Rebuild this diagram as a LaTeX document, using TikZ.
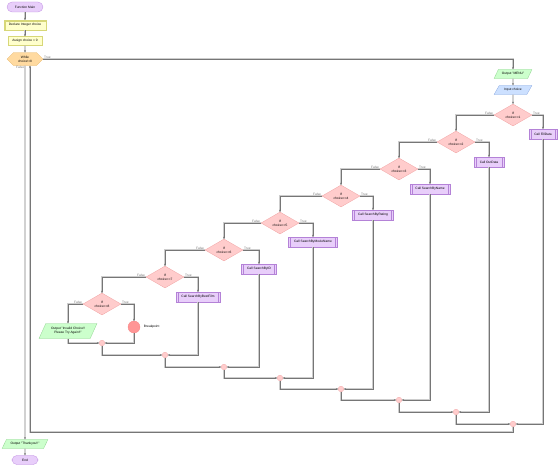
\documentclass[tikz,border=0pt]{standalone}
\usepackage{fontspec}
\setmainfont{Liberation Sans}
\usetikzlibrary{positioning,arrows.meta,shapes.geometric,shapes.symbols,calc}
\definecolor{termfill}{RGB}{232,206,250}
\definecolor{termrule}{RGB}{190,140,225}
\definecolor{procfill}{RGB}{255,255,204}
\definecolor{procrule}{RGB}{215,215,120}
\definecolor{loopfill}{RGB}{255,218,160}
\definecolor{looprule}{RGB}{230,180,100}
\definecolor{outfill}{RGB}{204,255,204}
\definecolor{outrule}{RGB}{140,210,140}
\definecolor{infill}{RGB}{204,224,255}
\definecolor{inrule}{RGB}{140,170,225}
\definecolor{decfill}{RGB}{255,204,204}
\definecolor{decrule}{RGB}{240,160,160}
\definecolor{callrule}{RGB}{180,130,215}
\definecolor{brkfill}{RGB}{255,150,150}
\definecolor{wire}{RGB}{118,118,118}
\definecolor{wireshade}{RGB}{205,205,205}
\newcommand{\tinyfont}{\fontsize{4.6}{5.4}\selectfont}

\begin{document}
\begin{tikzpicture}[
  font=\tinyfont,
  node distance=8mm,
  on grid,
  term/.style={draw=termrule,fill=termfill,rounded corners=2.5mm,
               minimum width=18mm,minimum height=5mm,inner sep=1pt},
  decl/.style={draw=procrule,fill=procfill,minimum width=21mm,minimum height=5mm,
               path picture={
                 \draw[procrule] ([yshift=-0.8mm]path picture bounding box.north west)
                   -- ([yshift=-0.8mm]path picture bounding box.north east);
                 \draw[procrule] ([xshift=0.8mm]path picture bounding box.north west)
                   -- ([xshift=0.8mm]path picture bounding box.south west);}},
  proc/.style={draw=procrule,fill=procfill,minimum width=17mm,minimum height=4.6mm},
  whilebox/.style={draw=looprule,fill=loopfill,signal,signal to=west and east,
               minimum width=18mm,minimum height=6.5mm,inner sep=0.5pt,align=center},
  outp/.style={draw=outrule,fill=outfill,trapezium,trapezium left angle=65,
               trapezium right angle=115,trapezium stretches=true,
               minimum width=19mm,minimum height=4.6mm,inner xsep=1pt,align=center},
  inp/.style={outp,draw=inrule,fill=infill},
  dec/.style={draw=decrule,fill=decfill,diamond,aspect=1.8,
              minimum width=19mm,minimum height=11mm,inner sep=0pt,align=center},
  call/.style={draw=callrule,fill=termfill,minimum height=5mm,inner xsep=2.8mm,
               path picture={
                 \draw[callrule] ([xshift=1mm]path picture bounding box.north west)
                   -- ([xshift=1mm]path picture bounding box.south west);
                 \draw[callrule] ([xshift=-1mm]path picture bounding box.north east)
                   -- ([xshift=-1mm]path picture bounding box.south east);}},
  brk/.style={circle,draw=decrule!80!red,fill=brkfill,minimum size=6mm,inner sep=0pt},
  merge/.style={circle,draw=decrule,fill=decfill,minimum size=2.8mm,inner sep=0pt},
  ar/.style={-{Stealth[length=1.1mm,width=0.9mm]},line width=0.6pt,wire,
             preaction={draw=wireshade,line width=1.5pt,-}},
  lbl/.style={font=\tinyfont,inner sep=1pt},
]
\path[use as bounding box] (-12.5mm,3.5mm) rectangle ++(280mm,-233.5mm);

\node[term] (fmain) {Function Main};
\node[decl,below=9mm of fmain] (decl) {Declare Integer choice};
\node[proc,below=8mm of decl] (assign) {Assign choice = 0};
\node[whilebox,below=9mm of assign] (loop) {While\\choice!=8};

\node[outp,below right=7.5mm and 244mm of loop] (menu) {Output "MENU"};
\node[inp,below=8mm of menu] (inchoice) {Input choice};
\node[dec,below=12.5mm of inchoice] (if1) {If\\choice==1};
\node[call,below right=9.5mm and 15mm of if1] (filldata) {Call FillData};
\node[dec,below left=13.5mm and 28.5mm of if1] (if2) {If\\choice==2};
\node[call,below right=10mm and 16.5mm of if2] (outdata) {Call OutData};
\node[dec,below left=13.5mm and 28.5mm of if2] (if3) {If\\choice==3};
\node[call,below right=10mm and 15.5mm of if3] (byname) {Call SearchByName};
\node[dec,below left=13.5mm and 29mm of if3] (if4) {If\\choice==4};
\node[call,below right=9.5mm and 16mm of if4] (byrating) {Call SearchByRating};
\node[dec,below left=13.5mm and 30.5mm of if4] (if5) {If\\choice==5};
\node[call,below right=9.5mm and 16.5mm of if5] (bymovie) {Call SearchByMovieName};
\node[dec,below left=13.5mm and 28mm of if5] (if6) {If\\choice==6};
\node[call,below right=9.5mm and 17.5mm of if6] (byid) {Call SearchByID};
\node[dec,below left=13.5mm and 29.5mm of if6] (if7) {If\\choice==7};
\node[call,below right=10mm and 16.5mm of if7] (bybest) {Call SearchByBestFilm};
\node[dec,below left=13.5mm and 31.5mm of if7] (if8) {If\\choice==8};
\node[brk,below right=11.5mm and 16mm of if8] (brk) {};
\node[lbl,anchor=west] (brktxt) at ([xshift=1.5mm]brk.east) {Breakpoint};
\node[outp,minimum width=29mm,minimum height=7.5mm,
      below left=13.5mm and 17mm of if8] (invalid) {Output "Invalid Choice!!\\Please Try Again!!"};

\node[merge] (m8) at ($(if8)+(0,-19.5mm)$) {};
\node[merge] (m7) at ($(if7 |- m8)+(0,-6mm)$) {};
\node[merge] (m6) at ($(if6 |- m7)+(0,-6mm)$) {};
\node[merge] (m5) at ($(if5 |- m6)+(0,-5.5mm)$) {};
\node[merge] (m4) at ($(if4 |- m5)+(0,-5.5mm)$) {};
\node[merge] (m3) at ($(if3 |- m4)+(0,-5.5mm)$) {};
\node[merge] (m2) at ($(if2 |- m3)+(0,-6mm)$) {};
\node[merge] (m1) at ($(if1 |- m2)+(0,-6mm)$) {};
\coordinate (back) at ($(m1)+(0,-4mm)$);

\node[outp,minimum width=23mm,below=192.5mm of loop] (bye) {Output "Thankyou!!"};
\node[term,minimum width=13mm,minimum height=4.6mm,below=8mm of bye] (stop) {End};

\draw[ar] (fmain) -- (decl);
\draw[ar] (decl) -- (assign);
\draw[ar] (assign) -- (loop);
\draw[ar] (loop.east) node[lbl,above right]{True} -| (menu.north);
\draw[ar] (loop.south) node[lbl,below left]{False} -- (bye);
\draw[ar] (menu) -- (inchoice);
\draw[ar] (inchoice) -- (if1);

\draw[ar] (if1.east) node[lbl,above right]{True} -| (filldata.north);
\draw[ar] (if1.west) node[lbl,above left]{False} -| (if2.north);
\draw[ar] (if2.east) node[lbl,above right]{True} -| (outdata.north);
\draw[ar] (if2.west) node[lbl,above left]{False} -| (if3.north);
\draw[ar] (if3.east) node[lbl,above right]{True} -| (byname.north);
\draw[ar] (if3.west) node[lbl,above left]{False} -| (if4.north);
\draw[ar] (if4.east) node[lbl,above right]{True} -| (byrating.north);
\draw[ar] (if4.west) node[lbl,above left]{False} -| (if5.north);
\draw[ar] (if5.east) node[lbl,above right]{True} -| (bymovie.north);
\draw[ar] (if5.west) node[lbl,above left]{False} -| (if6.north);
\draw[ar] (if6.east) node[lbl,above right]{True} -| (byid.north);
\draw[ar] (if6.west) node[lbl,above left]{False} -| (if7.north);
\draw[ar] (if7.east) node[lbl,above right]{True} -| (bybest.north);
\draw[ar] (if7.west) node[lbl,above left]{False} -| (if8.north);
\draw[ar] (if8.east) node[lbl,above right]{True} -| (brk.north);
\draw[ar] (if8.west) node[lbl,above left]{False} -| (invalid.north);

\draw[ar] (invalid.south) |- (m8.west);
\draw[ar] (brk.south) |- (m8.east);
\draw[ar] (m8.south) |- (m7.west);
\draw[ar] (bybest.south) |- (m7.east);
\draw[ar] (m7.south) |- (m6.west);
\draw[ar] (byid.south) |- (m6.east);
\draw[ar] (m6.south) |- (m5.west);
\draw[ar] (bymovie.south) |- (m5.east);
\draw[ar] (m5.south) |- (m4.west);
\draw[ar] (byrating.south) |- (m4.east);
\draw[ar] (m4.south) |- (m3.west);
\draw[ar] (byname.south) |- (m3.east);
\draw[ar] (m3.south) |- (m2.west);
\draw[ar] (outdata.south) |- (m2.east);
\draw[ar] (m2.south) |- (m1.west);
\draw[ar] (filldata.south) |- (m1.east);
\draw[ar] (m1.south) -- (back) -| ([xshift=2.5mm]loop.south);

\draw[ar] (bye) -- (stop);
\end{tikzpicture}
\end{document}
